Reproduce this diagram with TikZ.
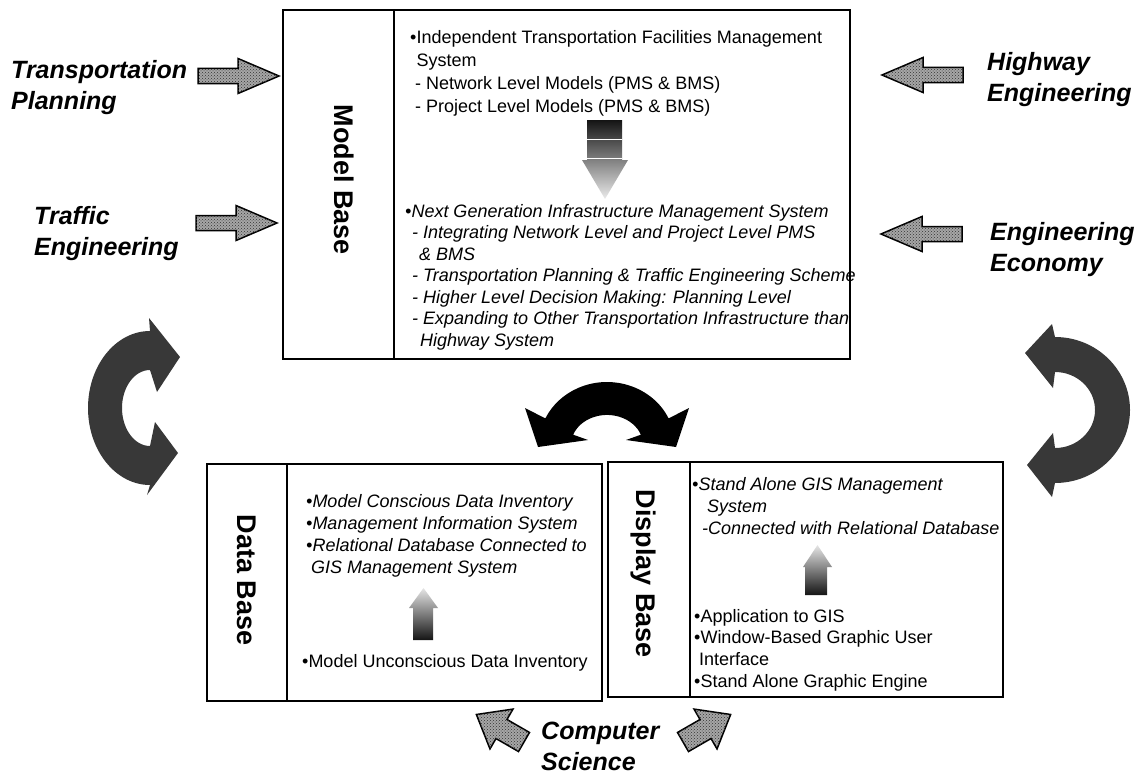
\documentclass[tikz,border=0pt]{standalone}
\usepackage{fontspec}
\setmainfont{Liberation Sans}
\usetikzlibrary{patterns}
\begin{document}
\begin{tikzpicture}[x=1pt,y=-1pt,
  box/.style={draw, line width=1.4pt},
  sidelab/.style={anchor=north west, align=left, inner sep=0pt, font=\fontsize{25}{31}\selectfont\bfseries\itshape},
  vlab/.style={rotate=-90, inner sep=0pt, font=\fontsize{27}{32}\selectfont\bfseries},
  btext/.style={anchor=north west, align=left, inner sep=0pt, font=\fontsize{18}{22}\selectfont},
  itext/.style={anchor=north west, align=left, inner sep=0pt, font=\fontsize{18}{22}\selectfont\itshape},
  grayarrow/.style={draw, line width=1.5pt, fill=black!35, line join=miter,
    postaction={pattern=crosshatch dots, pattern color=black!80}},
  curvefill/.style={fill=black!78},
  rarrow/.pic={\draw[grayarrow] (0,-7.5) -- (40,-7.5) -- (40,-17.5) -- (81,0) -- (40,17.5) -- (40,7.5) -- (0,7.5) -- cycle;},
  csarrow/.pic={\draw[grayarrow] (0,-11) -- (26,-11) -- (26,-23) -- (55,0) -- (26,23) -- (26,11) -- (0,11) -- cycle;}
]
\useasboundingbox (0,0) rectangle (1148,776);

% boxes
\draw[box] (283,10) rectangle (850,359);
\draw[box] (394,10) -- (394,359);
\draw[box] (207,464) rectangle (602,701);
\draw[box] (287,464) -- (287,701);
\draw[box] (608,462) rectangle (1003,697);
\draw[box] (690,462) -- (690,697);

% vertical labels
\node[vlab] (mbl) at (344,180) {Model Base};
\node[vlab] (dbl) at (247,580) {Data Base};
\node[vlab] (dsl) at (643,574) {Display Base};

% model base text
\node[btext, font=\fontsize{18}{23}\selectfont] (mb1) at (410,30) {•Independent Transportation Facilities Management\\
\hphantom{•}System\\
\hspace*{5pt}- Network Level Models (PMS \& BMS)\\
\hspace*{5pt}- Project Level Models (PMS \& BMS)};
\node[itext, font=\fontsize{18}{21.5}\selectfont\itshape] (mb2) at (405,204) {•Next Generation Infrastructure Management System\\
\hspace*{7pt}- Integrating Network Level and Project Level PMS\\
\hspace*{14pt}\& BMS\\
\hspace*{7pt}- Transportation Planning \& Traffic Engineering Scheme\\
\hspace*{7pt}- Higher Level Decision Making: Planning Level\\
\hspace*{7pt}- Expanding to Other Transportation Infrastructure than\\
\hspace*{15pt}Highway System};

% data base text
\node[itext] (db1) at (306,494) {•Model Conscious Data Inventory\\
•Management Information System\\
•Relational Database Connected to\\
\hspace*{5pt}GIS Management System};
\node[btext] (db2) at (302,654) {•Model Unconscious Data Inventory};

% display base text
\node[itext] (ds1) at (692,477) {•Stand Alone GIS Management\\
\hspace*{15pt}System\\
\hspace*{10pt}-Connected with Relational Database};
\node[btext, font=\fontsize{18}{21.7}\selectfont] (ds2) at (694,609) {•Application to GIS\\
•Window-Based Graphic User\\
\hspace*{5pt}Interface\\
•Stand Alone Graphic Engine};

% gradient arrows inside boxes
\shade[top color=black!92, middle color=black!70, bottom color=black!8]
  (587,120) -- (622,120) -- (622,160) -- (628,160) -- (605,199) -- (582,160) -- (587,160) -- cycle;
\draw[white, line width=1pt] (587,139) -- (622,139);
\draw[white, line width=1pt] (587,158) -- (622,158);
\shade[top color=black!10, middle color=black!70, bottom color=black!92]
  (413,640) -- (433,640) -- (433,608) -- (438,608) -- (423.5,588) -- (409,608) -- (413,608) -- cycle;
\shade[top color=black!10, middle color=black!70, bottom color=black!92]
  (805,595) -- (827,595) -- (827,567) -- (832,567) -- (817.5,545) -- (803,567) -- (805,567) -- cycle;

% side labels
\node[sidelab] (tp) at (11,60) {Transportation\\Planning};
\node[sidelab] (te) at (34,206) {Traffic\\Engineering};
\node[sidelab] (he) at (987,52) {Highway\\Engineering};
\node[sidelab] (ee) at (990,222) {Engineering\\Economy};
\node[sidelab] (cs) at (541,722) {Computer\\Science};

% straight gray arrows
\pic at (198,76) {rarrow};
\pic at (196,223) {rarrow};
\pic[rotate=180] at (963,75) {rarrow};
\pic[rotate=180] at (962,234) {rarrow};
\pic[rotate=150] at (524,742) {csarrow};
\pic[rotate=30] at (683,742) {csarrow};

% curved arrows
\fill[curvefill] (180,357) -- (157,392) -- (150,370)
  arc[start angle=90, end angle=270, x radius=28pt, y radius=38pt]
  -- (155,422) -- (178,453) -- (147,495) -- (150,485)
  arc[start angle=270, end angle=90, x radius=62pt, y radius=77pt]
  -- (149,318) -- cycle;
\fill[curvefill] (1025,353) -- (1053,388) -- (1055,372)
  arc[start angle=90, end angle=-90, x radius=40pt, y radius=38pt]
  -- (1053,433) -- (1027,465) -- (1052,497) -- (1055,483)
  arc[start angle=-90, end angle=90, x radius=75pt, y radius=73pt]
  -- (1052,324) -- cycle;
\fill[black] (538,447) -- (588,440) -- (573.2,434.7)
  arc[start angle=160, end angle=20, x radius=36pt, y radius=30pt]
  -- (626,440) -- (676,447) -- (689,408) -- (668.6,418.4)
  arc[start angle=25, end angle=155, x radius=68pt, y radius=63pt]
  -- (525,408) -- cycle;
\end{tikzpicture}
\end{document}
